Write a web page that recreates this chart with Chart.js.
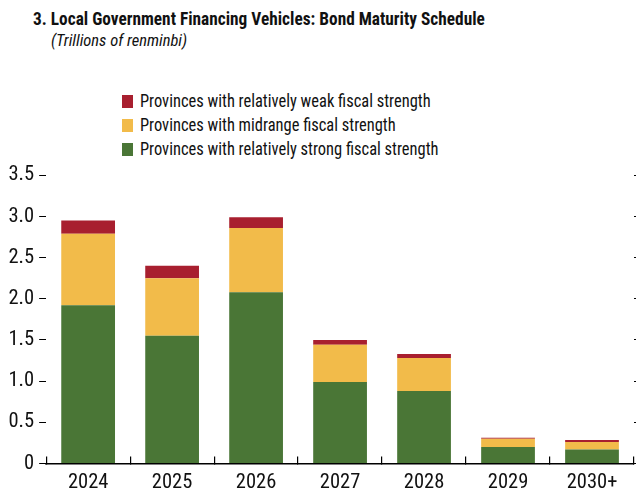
<!DOCTYPE html>
<html>
<head>
<meta charset="utf-8">
<script src="https://cdn.jsdelivr.net/npm/chart.js@4"></script>
<style>
  body { margin: 0; width: 636px; height: 493px; position: relative; overflow: hidden; background: #fff; font-family: 'Roboto Condensed', 'Liberation Sans', Arial, sans-serif; color: #111; }
  #title { position: absolute; left: 33px; top: 8px; font-size: 18.5px; font-weight: bold; white-space: nowrap; transform: scaleX(0.936); transform-origin: left top; }
  #subtitle { position: absolute; left: 51px; top: 31px; font-size: 16.5px; font-style: italic; white-space: nowrap; }
  #legend { position: absolute; left: 122px; top: 89px; font-size: 18.5px; }
  #legend .row { display: flex; align-items: center; height: 24px; white-space: nowrap; }
  #legend .box { width: 11px; height: 13px; margin-right: 6.5px; flex: none; }
  #legend .txt { display: inline-block; transform: scaleX(0.89); transform-origin: left center; }
  #wrap { position: absolute; left: 0; top: 158px; width: 636px; height: 351px; }
</style>
</head>
<body>
<div id="title">3. Local Government Financing Vehicles: Bond Maturity Schedule</div>
<div id="subtitle">(Trillions of renminbi)</div>
<div id="legend"></div>
<div id="wrap"><canvas id="chart"></canvas></div>
<script>
document.addEventListener("DOMContentLoaded", function () {
    // categories and stacked values (trillions of renminbi)
    const years = ['2024', '2025', '2026', '2027', '2028', '2029', '2030+'];
    const strong = [1.92, 1.55, 2.08, 0.99, 0.88, 0.20, 0.17];
    const midrange = [0.87, 0.70, 0.78, 0.45, 0.40, 0.10, 0.09];
    const weak = [0.16, 0.15, 0.13, 0.06, 0.05, 0.012, 0.025];
    const yTicks = [0, 0.5, 1.0, 1.5, 2.0, 2.5, 3.0, 3.5];

    const font = "'Roboto Condensed', 'Liberation Sans', Arial, sans-serif";

    const ctx = document.getElementById('chart').getContext('2d');
    const chart = new Chart(ctx, {
        type: 'bar',
        data: {
            labels: years,
            datasets: [{
                label: 'Provinces with relatively strong fiscal strength',
                data: strong,
                backgroundColor: '#4a7636'
            }, {
                label: 'Provinces with midrange fiscal strength',
                data: midrange,
                backgroundColor: '#f2bb4a'
            }, {
                label: 'Provinces with relatively weak fiscal strength',
                data: weak,
                backgroundColor: '#a81f2f'
            }]
        },
        options: {
            responsive: true,
            maintainAspectRatio: false,
            animation: false,
            layout: { padding: { left: 3.5, top: 2.3, right: 0, bottom: 0 } },
            datasets: { bar: { categoryPercentage: 1, barPercentage: 0.64 } },
            plugins: { legend: { display: false }, tooltip: { enabled: false } },
            scales: {
                x: {
                    stacked: true,
                    offset: true,
                    border: { display: true, color: '#000', width: 1.5 },
                    grid: { offset: true, drawOnChartArea: false, color: '#000', tickLength: -7, lineWidth: 1.2 },
                    ticks: { color: '#111', padding: 14, font: { family: font, size: 20.5 } }
                },
                y: {
                    stacked: true,
                    min: 0,
                    max: 3.5,
                    afterBuildTicks: function (s) { s.ticks = yTicks.map(v => ({ value: v })); },
                    border: { display: false },
                    grid: { drawOnChartArea: false, color: '#000', tickLength: 7 },
                    ticks: {
                        color: '#111', padding: 5, font: { family: font, size: 20.5 },
                        callback: v => v === 0 ? '0' : v.toFixed(1)
                    }
                },
                y2: {
                    position: 'right',
                    min: 0,
                    max: 3.5,
                    afterBuildTicks: function (s) { s.ticks = yTicks.map(v => ({ value: v })); },
                    border: { display: false },
                    grid: { drawOnChartArea: false, color: '#000', tickLength: 2 },
                    ticks: { display: false }
                }
            }
        }
    });

    // legend, top entry is the top of the stack
    const legend = document.getElementById('legend');
    chart.data.datasets.slice().reverse().forEach(function (ds) {
        const row = document.createElement('div');
        row.className = 'row';
        const box = document.createElement('span');
        box.className = 'box';
        box.style.background = ds.backgroundColor;
        const txt = document.createElement('span');
        txt.className = 'txt';
        txt.textContent = ds.label;
        row.appendChild(box);
        row.appendChild(txt);
        legend.appendChild(row);
    });
});
</script>
</body>
</html>
